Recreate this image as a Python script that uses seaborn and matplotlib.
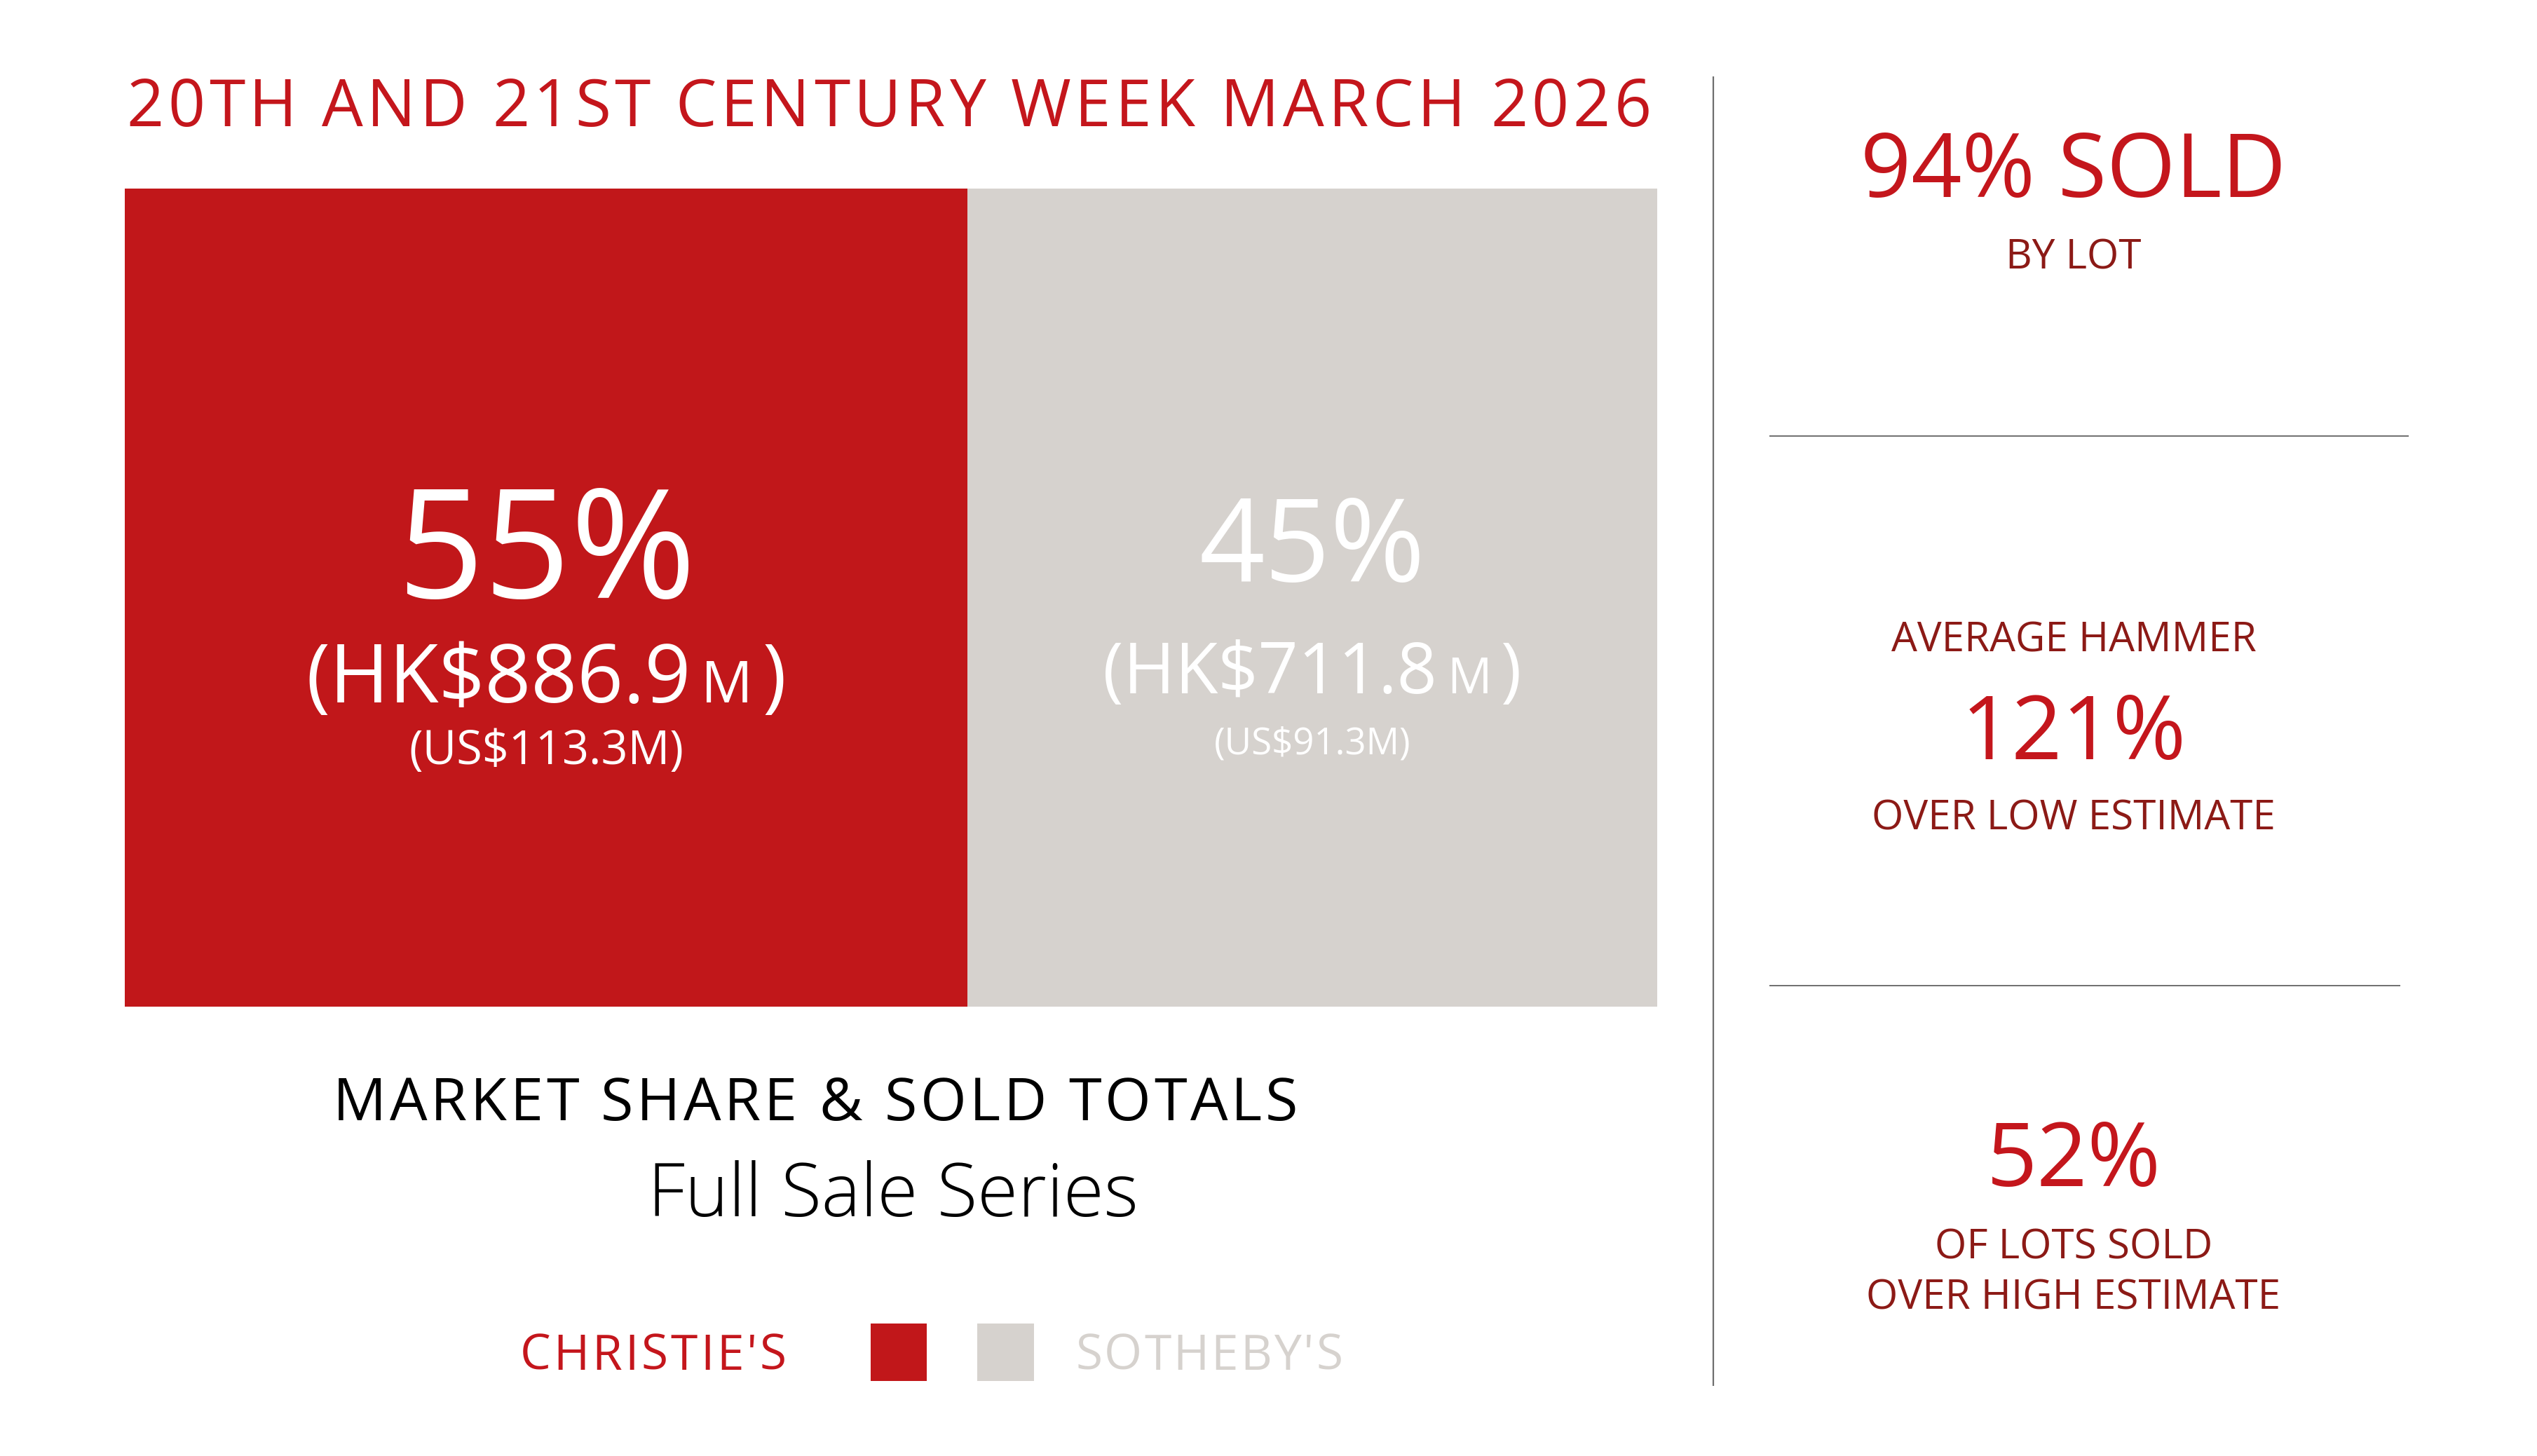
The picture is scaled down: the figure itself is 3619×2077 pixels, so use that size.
import matplotlib
matplotlib.use("Agg")
import matplotlib.pyplot as plt
import matplotlib.transforms as mtrans
from matplotlib import font_manager
from matplotlib.ft2font import FT2Font
from matplotlib.offsetbox import TextArea, HPacker, AnnotationBbox
import seaborn as sns
import pandas as pd

# ---- data ----
houses = ["CHRISTIE'S", "SOTHEBY'S"]
share_pct = [55, 45]
hk_totals = ["886.9", "711.8"]
us_totals = ["113.3", "91.3"]

title = "20TH AND 21ST CENTURY WEEK MARCH 2026"
subtitle = "MARKET SHARE & SOLD TOTALS"
series_name = "Full Sale Series"

stat_values = ["94% SOLD", "121%", "52%"]
stat_above = ["", "AVERAGE HAMMER", ""]
stat_below = [["BY LOT"], ["OVER LOW ESTIMATE"], ["OF LOTS SOLD", "OVER HIGH ESTIMATE"]]

# ---- style ----
RED = "#C1171A"
TXT_RED = "#C4161C"
DARK_RED = "#8C1A16"
GREY = "#D6D2CE"
LINE = "#6E6E6E"
FAMILY = "Open Sans"

sns.set_theme(style="white")
plt.rcParams["font.family"] = [FAMILY, "DejaVu Sans"]

W, H = 3619, 2077
fig = plt.figure(figsize=(W / 100, H / 100), dpi=100)
fig.patch.set_facecolor("white")

# overlay axes in pixel coordinates for text and rules (kept above the bar)
ax = fig.add_axes([0, 0, 1, 1])
ax.set_xlim(0, W)
ax.set_ylim(H, 0)
ax.axis("off")
ax.set_zorder(5)


def tracked_text(x, y, s, size, color, tracking, ha="left", weight="normal"):
    # matplotlib has no letter-spacing, so lay the glyphs out one by one
    fp = font_manager.FontProperties(family=FAMILY, weight=weight)
    font = FT2Font(font_manager.findfont(fp))
    font.set_size(size, 100)
    adv = [font.load_char(ord(c)).linearHoriAdvance / 65536 for c in s]
    total = sum(adv) + tracking * (len(s) - 1)
    if ha == "center":
        x -= total / 2
    elif ha == "right":
        x -= total
    for c, a in zip(s, adv):
        if c != " ":
            ax.text(x, y, c, ha="left", va="baseline", color=color,
                    fontsize=size, fontweight=weight)
        x += a + tracking


# ---- stacked share bar ----
bx0, by0, bx1, by1 = 178, 269, 2364, 1436
ax_bar = fig.add_axes([bx0 / W, 1 - by1 / H, (bx1 - bx0) / W, (by1 - by0) / H])
bar_df = pd.DataFrame({"house": houses, "share": share_pct})
bar_df["cum"] = bar_df["share"].cumsum()
sns.barplot(data=bar_df.iloc[[1]], x="cum", y=["s"], color=GREY, saturation=1,
            width=1, orient="h", linewidth=0, edgecolor="none", ax=ax_bar)
sns.barplot(data=bar_df.iloc[[0]], x="cum", y=["s"], color=RED, saturation=1,
            width=1, orient="h", linewidth=0, edgecolor="none", ax=ax_bar)
ax_bar.set_xlim(0, bar_df["cum"].iloc[-1])
ax_bar.set_ylim(0.5, -0.5)
ax_bar.axis("off")

tr = mtrans.blended_transform_factory(ax_bar.transData, ax.transData)

# sizes per segment: (pct size, pct baseline, hk size, m size, hk bottom, us size, us baseline)
seg_style = [
    (156, 853, 83, 59, 1030, 48, 1090),
    (118, 829, 72, 51, 1013, 38, 1076),
]
for i, row in bar_df.iterrows():
    cx = row["cum"] - row["share"] / 2
    ps, pb, hs, ms, hb, us, ub = seg_style[i]
    ax.text(cx, pb, f"{row['share']}%", transform=tr, ha="center", va="baseline",
            color="white", fontsize=ps)
    parts = [TextArea(f"(HK${hk_totals[i]}", textprops=dict(color="white", fontsize=hs)),
             TextArea("M", textprops=dict(color="white", fontsize=ms)),
             TextArea(")", textprops=dict(color="white", fontsize=hs))]
    pack = HPacker(children=parts, align="baseline", pad=0, sep=10)
    ab = AnnotationBbox(pack, (cx, hb), xycoords=tr, box_alignment=(0.5, 0),
                        frameon=False, pad=0)
    ax.add_artist(ab)
    ax.text(cx, ub, f"(US${us_totals[i]}M)", transform=tr, ha="center", va="baseline",
            color="white", fontsize=us)

# ---- titles ----
tracked_text(180, 180, title, 67, TXT_RED, 5.7)
tracked_text(1163, 1598, subtitle, 61, "black", 4.6, ha="center")
ax.text(1274, 1735, series_name, ha="center", va="baseline", color="black",
        fontsize=76, fontweight="light")

# ---- legend ----
tracked_text(1122, 1954, houses[0], 50, TXT_RED, 3.9, ha="right")
ax.add_patch(plt.Rectangle((1242, 1888), 80, 82, color=RED, lw=0))
ax.add_patch(plt.Rectangle((1394, 1888), 81, 82, color=GREY, lw=0))
tracked_text(1534, 1954, houses[1], 50, GREY, 3.0)

# ---- right panel ----
ax.plot([2444, 2444], [109, 1977], color=LINE, lw=1.6, solid_capstyle="butt")
ax.plot([2524, 3436], [622, 622], color=LINE, lw=1.4, solid_capstyle="butt")
ax.plot([2524, 3424], [1406, 1406], color=LINE, lw=1.4, solid_capstyle="butt")

rcx = 2958
value_base = [281, 1083, 1692]
above_base = [None, 930, None]
below_base = [[384], [1184], [1795, 1868]]
for k in range(3):
    ax.text(rcx, value_base[k], stat_values[k], ha="center", va="baseline",
            color=TXT_RED, fontsize=91)
    if stat_above[k]:
        ax.text(rcx, above_base[k], stat_above[k], ha="center", va="baseline",
                color=DARK_RED, fontsize=42)
    for txt, yb in zip(stat_below[k], below_base[k]):
        ax.text(rcx, yb, txt, ha="center", va="baseline", color=DARK_RED, fontsize=42)

fig.savefig("out.png", dpi=100, facecolor="white")
